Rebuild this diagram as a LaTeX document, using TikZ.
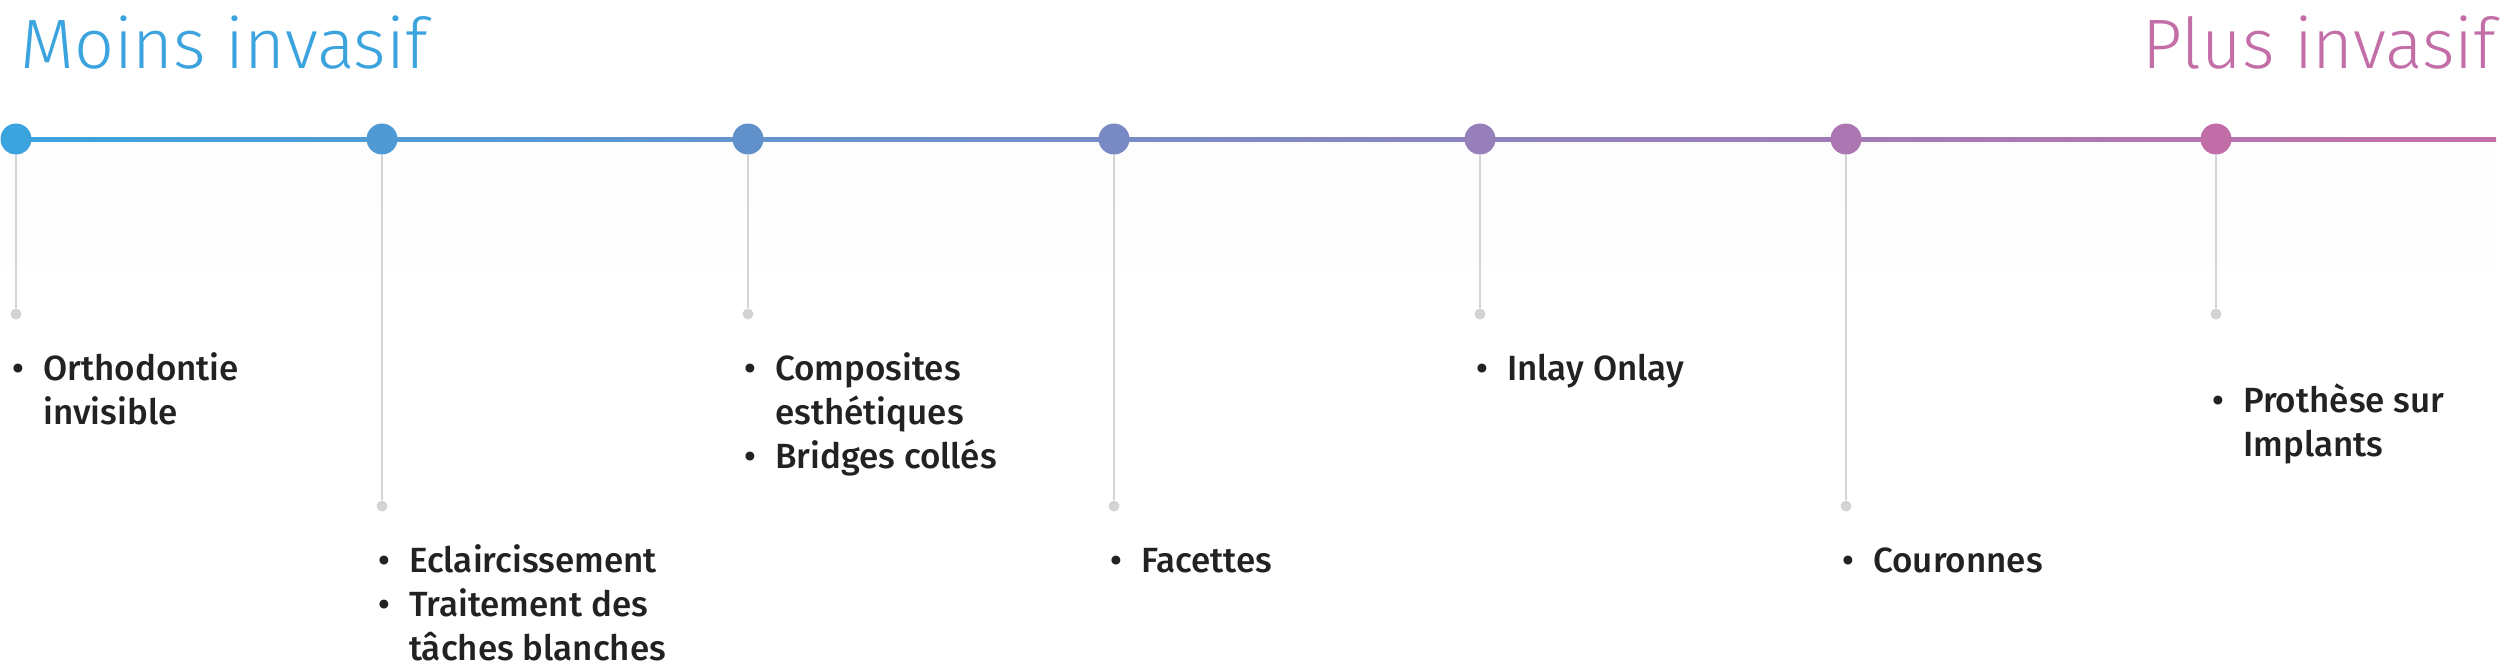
\documentclass[tikz,border=0pt]{standalone}
\usepackage{fontspec}
\setmainfont{Fira Sans Medium}
\newfontfamily\titlefont{Fira Sans Light}
\usepackage{tikz}
\usetikzlibrary{calc,positioning}
\definecolor{myblue}{HTML}{3BA3DE}
\definecolor{mypink}{HTML}{C46EA8}
\definecolor{dotA}{HTML}{3BA3DE}
\definecolor{dotB}{HTML}{4F9AD4}
\definecolor{dotC}{HTML}{6191CB}
\definecolor{dotD}{HTML}{7889C3}
\definecolor{dotE}{HTML}{977FBA}
\definecolor{dotF}{HTML}{AB76B1}
\definecolor{dotG}{HTML}{C16EA8}
\definecolor{mygrey}{HTML}{D4D4D4}
\definecolor{mytext}{HTML}{222222}
\tikzstyle{bigdot}=[circle,minimum size=31pt,inner sep=0pt]
\tikzstyle{enddot}=[circle,fill=mygrey,minimum size=11pt,inner sep=0pt]
\tikzstyle{stem}=[draw=mygrey,line width=2pt]
\tikzstyle{item}=[anchor=base west,inner sep=0pt,align=left,text=mytext,font=\fontsize{35}{44}\selectfont]
\tikzstyle{heading}=[inner sep=0pt,font=\titlefont\fontsize{70}{70}\selectfont]
\newcommand{\bul}{\makebox[0pt][r]{\textbullet\hspace{19pt}}}

\begin{document}
\begin{tikzpicture}[x=1pt,y=-1pt]
\useasboundingbox (0,0) rectangle (2520,670);
\shade[top color=black!1,bottom color=white] (0,141) rectangle (2496,300);
\coordinate (lstart) at (16,139);
\coordinate (lend) at (2496,139);
\shade[left color=myblue,right color=mypink] ($(lstart)+(0,-2)$) rectangle ($(lend)+(0,2)$);
\draw (20, 68) node [heading, anchor=base west, text=myblue] (less) {Moins invasif};
\draw (2496, 68) node [heading, anchor=base east, text=mypink] (more) {Plus invasif};
\draw (16, 139) node [bigdot, fill=dotA] (v1) {};
\draw (382, 139) node [bigdot, fill=dotB] (v2) {};
\draw (748, 139) node [bigdot, fill=dotC] (v3) {};
\draw (1114, 139) node [bigdot, fill=dotD] (v4) {};
\draw (1480, 139) node [bigdot, fill=dotE] (v5) {};
\draw (1846, 139) node [bigdot, fill=dotF] (v6) {};
\draw (2216, 139) node [bigdot, fill=dotG] (v7) {};
\draw (16, 314) node [enddot] (e1) {};
\draw (382, 506) node [enddot] (e2) {};
\draw (748, 314) node [enddot] (e3) {};
\draw (1114, 506) node [enddot] (e4) {};
\draw (1480, 314) node [enddot] (e5) {};
\draw (1846, 506) node [enddot] (e6) {};
\draw (2216, 314) node [enddot] (e7) {};
\draw[stem] (v1) -- (e1);
\draw[stem] (v2) -- (e2);
\draw[stem] (v3) -- (e3);
\draw[stem] (v4) -- (e4);
\draw[stem] (v5) -- (e5);
\draw[stem] (v6) -- (e6);
\draw[stem] (v7) -- (e7);
% base anchor sits on the last line
\draw (43, 424) node [item] (t1) {\bul Orthodontie\\invisible};
\draw (409, 660) node [item] (t2) {\bul Eclaircissement\\\bul Traitement des\\tâches blanches};
\draw (775, 468) node [item] (t3) {\bul Composites\\esthétiques\\\bul Bridges collés};
\draw (1141, 572) node [item] (t4) {\bul Facettes};
\draw (1507, 380) node [item] (t5) {\bul Inlay Onlay};
\draw (1873, 572) node [item] (t6) {\bul Couronnes};
\draw (2243, 456) node [item] (t7) {\bul Prothèse sur\\Implants};
\end{tikzpicture}
\end{document}
